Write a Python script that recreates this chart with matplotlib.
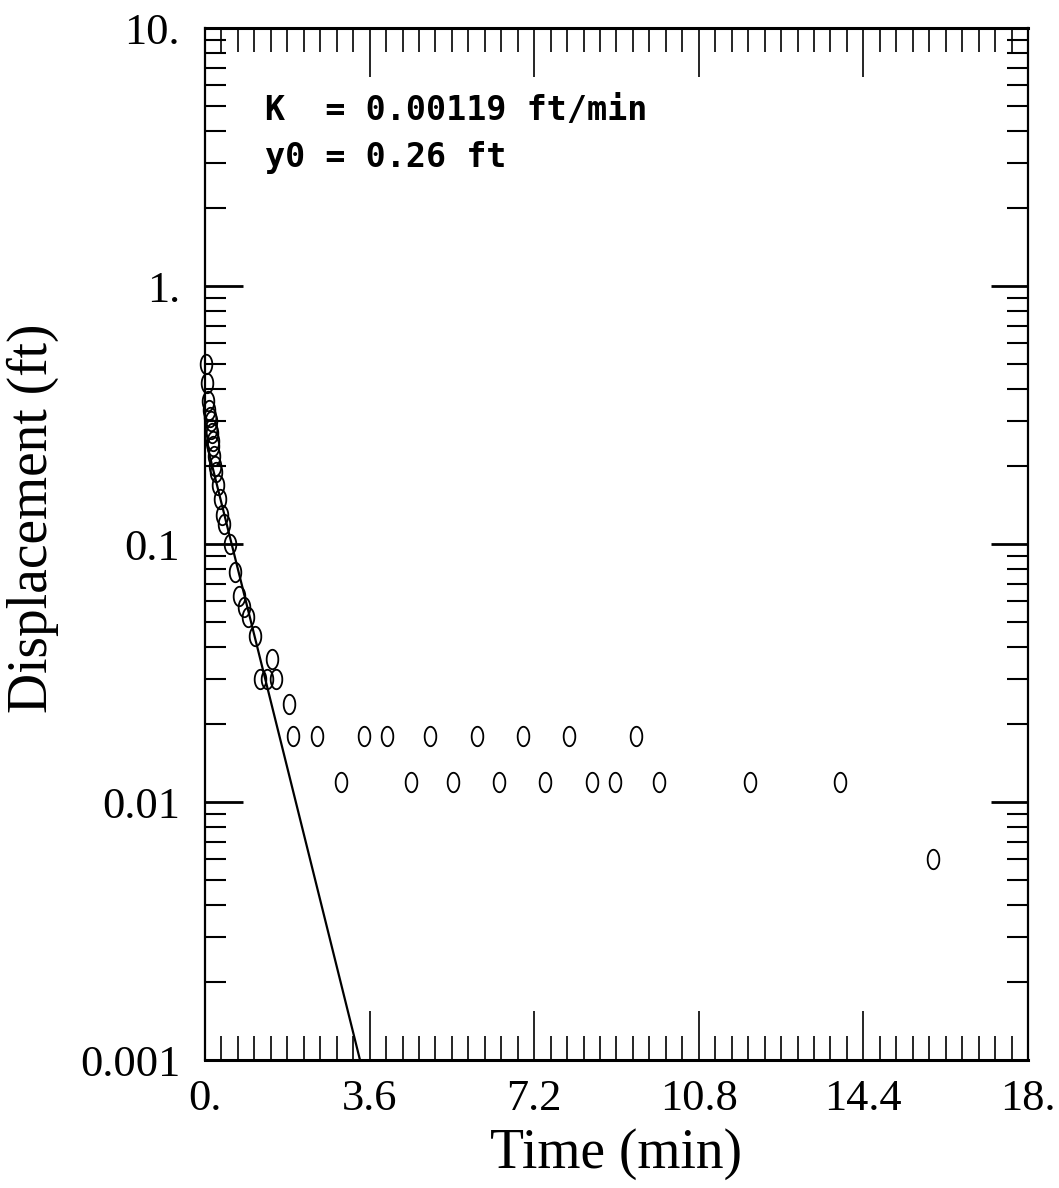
import matplotlib
matplotlib.use("Agg")
import matplotlib.pyplot as plt
import numpy as np
from matplotlib.ticker import FixedLocator, LogLocator, NullFormatter

# slug test recovery data
time_min = [0.03, 0.05, 0.07, 0.08, 0.10, 0.12, 0.13, 0.15, 0.17, 0.18,
            0.20, 0.22, 0.25, 0.28, 0.33, 0.38, 0.42, 0.55, 0.66, 0.75,
            0.85, 0.95, 1.09, 1.20, 1.35, 1.46, 1.55, 1.84,
            1.93, 2.46, 3.48, 3.97, 4.92, 5.94, 6.95, 7.96, 9.43,
            2.97, 4.50, 5.43, 6.44, 7.44, 8.46, 8.97, 9.93, 11.92, 13.89,
            15.92]
displacement_ft = [0.50, 0.42, 0.36, 0.33, 0.31, 0.30, 0.28, 0.27, 0.25, 0.24,
                   0.22, 0.20, 0.19, 0.17, 0.15, 0.13, 0.12, 0.10, 0.078, 0.063,
                   0.057, 0.052, 0.044, 0.030, 0.030, 0.036, 0.030, 0.024,
                   0.018, 0.018, 0.018, 0.018, 0.018, 0.018, 0.018, 0.018, 0.018,
                   0.012, 0.012, 0.012, 0.012, 0.012, 0.012, 0.012, 0.012, 0.012, 0.012,
                   0.006]

# straight-line fit
fit_t = [0.0, 3.39]
fit_y = [0.26, 0.001]

x_ticks = [0, 3.6, 7.2, 10.8, 14.4, 18]
x_labels = ["0.", "3.6", "7.2", "10.8", "14.4", "18."]
y_ticks = [0.001, 0.01, 0.1, 1, 10]
y_labels = ["0.001", "0.01", "0.1", "1.", "10."]

serif = "Liberation Serif"

fig = plt.figure(figsize=(10.59, 11.88), dpi=100)
ax = fig.add_axes([0.1936, 0.1077, 0.7771, 0.8687])

ax.plot(fit_t, fit_y, color="black", lw=1.6)

# tall "0"-like marker
th = np.linspace(0, 2 * np.pi, 40)
zero_marker = list(zip(0.6 * np.cos(th), np.sin(th)))
ax.plot(time_min, displacement_ft, linestyle="none", marker=zero_marker,
        markersize=14, mfc="none", mec="black", mew=1.3, clip_on=False)

ax.set_yscale("log")
ax.set_xlim(0, 18)
ax.set_ylim(0.001, 10)

ax.xaxis.set_major_locator(FixedLocator(x_ticks))
ax.set_xticklabels(x_labels, fontsize=32, family=serif)
ax.xaxis.set_minor_locator(FixedLocator(np.arange(0, 18.01, 0.36)))
ax.yaxis.set_major_locator(FixedLocator(y_ticks))
ax.set_yticklabels(y_labels, fontsize=32, family=serif)
ax.yaxis.set_minor_locator(LogLocator(base=10, subs=np.arange(2, 10)))
ax.yaxis.set_minor_formatter(NullFormatter())

ax.tick_params(axis="x", which="major", direction="in", length=35, width=1.2,
               top=True, pad=14)
ax.tick_params(axis="x", which="minor", direction="in", length=17, width=1.2,
               top=True)
ax.tick_params(axis="y", which="major", direction="in", length=27, width=2,
               right=True, pad=18)
ax.tick_params(axis="y", which="minor", direction="in", length=15, width=1.5,
               right=True)

for side in ["top", "bottom"]:
    ax.spines[side].set_linewidth(2.2)
for side in ["left", "right"]:
    ax.spines[side].set_linewidth(1.6)
    ax.spines[side].set_linestyle((0, (1, 1)))

ax.set_xlabel("Time (min)", fontsize=40, family=serif, labelpad=6)
ax.set_ylabel("Displacement (ft)", fontsize=40, family=serif)
ax.yaxis.set_label_coords(-0.178, 0.525)

ax.text(0.073, 0.911, "K  = 0.00119 ft/min", transform=ax.transAxes,
        fontsize=24, fontweight="bold", family="DejaVu Sans Mono", va="baseline")
ax.text(0.073, 0.865, "y0 = 0.26 ft", transform=ax.transAxes,
        fontsize=24, fontweight="bold", family="DejaVu Sans Mono", va="baseline")

fig.savefig("out.png", dpi=100)
